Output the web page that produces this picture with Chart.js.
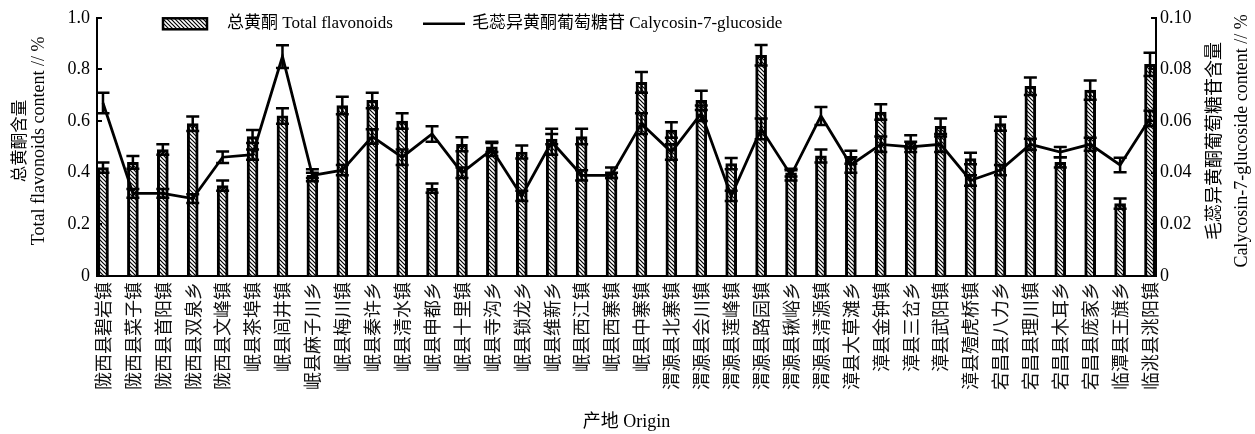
<!DOCTYPE html>
<html>
<head>
<meta charset="utf-8">
<script src="https://cdn.jsdelivr.net/npm/chart.js@4.4.1/dist/chart.umd.min.js"></script>
<style>
  html, body { margin: 0; padding: 0; background: #fff; }
  #wrap { width: 1255px; height: 434px; }
</style>
</head>
<body>
<div id="wrap"><canvas id="chart" width="1255" height="434"></canvas></div>
<script>
// Sampling sites (产地)
const origins = [
  '陇西县碧岩镇', '陇西县菜子镇', '陇西县首阳镇', '陇西县双泉乡', '陇西县文峰镇',
  '岷县茶埠镇', '岷县闾井镇', '岷县麻子川乡', '岷县梅川镇', '岷县秦许乡',
  '岷县清水镇', '岷县申都乡', '岷县十里镇', '岷县寺沟乡', '岷县锁龙乡',
  '岷县维新乡', '岷县西江镇', '岷县西寨镇', '岷县中寨镇', '渭源县北寨镇',
  '渭源县会川镇', '渭源县莲峰镇', '渭源县路园镇', '渭源县锹峪乡', '渭源县清源镇',
  '漳县大草滩乡', '漳县金钟镇', '漳县三岔乡', '漳县武阳镇', '漳县殪虎桥镇',
  '宕昌县八力乡', '宕昌县理川镇', '宕昌县木耳乡', '宕昌县庞家乡', '临潭县王旗乡',
  '临洮县洮阳镇'
];

// Total flavonoids content (%), mean and SD
const flavonoids = [
  0.42, 0.44, 0.49, 0.59, 0.35, 0.54, 0.62, 0.39, 0.66, 0.68,
  0.60, 0.34, 0.51, 0.50, 0.48, 0.53, 0.54, 0.40, 0.75, 0.565,
  0.68, 0.435, 0.855, 0.40, 0.465, 0.46, 0.635, 0.52, 0.58, 0.455,
  0.59, 0.735, 0.44, 0.72, 0.28, 0.82
];
const flavonoidsSD = [
  0.020, 0.025, 0.020, 0.028, 0.020, 0.025, 0.030, 0.023, 0.034, 0.030,
  0.030, 0.018, 0.027, 0.020, 0.025, 0.020, 0.030, 0.020, 0.040, 0.030,
  0.037, 0.022, 0.040, 0.015, 0.025, 0.025, 0.030, 0.025, 0.030, 0.022,
  0.027, 0.034, 0.020, 0.037, 0.020, 0.045
];

// Calycosin-7-glucoside content (%), mean and SD
const calycosin = [
  0.067, 0.032, 0.032, 0.030, 0.046, 0.047, 0.085, 0.039, 0.041, 0.054,
  0.046, 0.055, 0.040, 0.049, 0.031, 0.052, 0.039, 0.039, 0.059, 0.048,
  0.063, 0.031, 0.057, 0.039, 0.062, 0.043, 0.051, 0.050, 0.051, 0.037,
  0.041, 0.051, 0.048, 0.051, 0.043, 0.061
];
const calycosinSD = [
  0.0040, 0.0017, 0.0017, 0.0017, 0.0022, 0.0020, 0.0044, 0.0010, 0.0020, 0.0028,
  0.0030, 0.0030, 0.0020, 0.0025, 0.0020, 0.0050, 0.0020, 0.0010, 0.0040, 0.0030,
  0.0030, 0.0020, 0.0040, 0.0020, 0.0035, 0.0030, 0.0030, 0.0020, 0.0030, 0.0020,
  0.0020, 0.0022, 0.0020, 0.0025, 0.0028, 0.0030
];

// Axis ticks
const leftTicks = [0, 0.2, 0.4, 0.6, 0.8, 1.0];
const rightTicks = [0, 0.02, 0.04, 0.06, 0.08, 0.10];

// Axis titles and series names
const leftTitle = ['总黄酮含量', 'Total flavonoids content // %'];
const rightTitle = ['毛蕊异黄酮葡萄糖苷含量', 'Calycosin-7-glucoside content // %'];
const xTitle = '产地 Origin';
const barName = '总黄酮 Total flavonoids';
const lineName = '毛蕊异黄酮葡萄糖苷 Calycosin-7-glucoside';

const SERIF = '"Liberation Serif", "Noto Sans CJK SC", serif';
const CJK = '"Noto Sans CJK SC", sans-serif';

// Diagonal hatch fill for the bars
function makeHatch() {
  const tile = document.createElement('canvas');
  tile.width = 4; tile.height = 4;
  const g = tile.getContext('2d');
  g.fillStyle = '#fff';
  g.fillRect(0, 0, 4, 4);
  g.strokeStyle = '#000';
  g.lineWidth = 1.2;
  g.beginPath();
  g.moveTo(-1, -1); g.lineTo(5, 5);
  g.moveTo(3, -1); g.lineTo(5, 1);
  g.moveTo(-1, 3); g.lineTo(1, 5);
  g.stroke();
  return document.createElement('canvas').getContext('2d').createPattern(tile, 'repeat');
}
const hatch = makeHatch();

// Error bars (mean ± SD) with caps on both ends
const errorBars = {
  id: 'errorBars',
  afterDatasetsDraw(chart) {
    const { ctx } = chart;
    const xs = chart.scales.x;
    const cap = 6.5;
    ctx.save();
    ctx.strokeStyle = '#000';
    ctx.lineWidth = 2.5;
    const draw = (vals, sds, scale) => {
      vals.forEach((v, i) => {
        const px = xs.getPixelForValue(i);
        const hi = scale.getPixelForValue(v + sds[i]);
        const lo = scale.getPixelForValue(v - sds[i]);
        ctx.beginPath();
        ctx.moveTo(px, hi); ctx.lineTo(px, lo);
        ctx.moveTo(px - cap, hi); ctx.lineTo(px + cap, hi);
        ctx.moveTo(px - cap, lo); ctx.lineTo(px + cap, lo);
        ctx.stroke();
      });
    };
    draw(flavonoids, flavonoidsSD, chart.scales.y);
    draw(calycosin, calycosinSD, chart.scales.y1);
    ctx.restore();
  }
};

// Tick marks pointing into the plot on both value axes
const innerTicks = {
  id: 'innerTicks',
  afterDraw(chart) {
    const { ctx, chartArea: a } = chart;
    ctx.save();
    ctx.strokeStyle = '#000';
    ctx.lineWidth = 2;
    const yl = chart.scales.y, yr = chart.scales.y1;
    yl.ticks.forEach(t => {
      const p = Math.round(yl.getPixelForValue(t.value));
      ctx.beginPath(); ctx.moveTo(a.left, p); ctx.lineTo(a.left + 5, p); ctx.stroke();
    });
    yr.ticks.forEach(t => {
      const p = Math.round(yr.getPixelForValue(t.value));
      ctx.beginPath(); ctx.moveTo(a.right, p); ctx.lineTo(a.right - 5, p); ctx.stroke();
    });
    ctx.restore();
  }
};

// Vertical axis titles, both reading bottom-to-top, two lines each
const axisTitles = {
  id: 'axisTitles',
  afterDraw(chart) {
    const { ctx, chartArea: a } = chart;
    const cy = (a.top + a.bottom) / 2 - 6;
    const put = (text, x, size) => {
      ctx.save();
      ctx.translate(x, cy);
      ctx.rotate(-Math.PI / 2);
      ctx.font = size + 'px ' + SERIF;
      ctx.fillStyle = '#000';
      ctx.textAlign = 'center';
      ctx.textBaseline = 'middle';
      ctx.fillText(text, 0, 0);
      ctx.restore();
    };
    put(leftTitle[0], 21, 16.5);
    put(leftTitle[1], 39, 18);
    put(rightTitle[0], 1215, 18);
    put(rightTitle[1], 1242, 18);
  }
};

// Series key along the top of the plot
const seriesKey = {
  id: 'seriesKey',
  afterDraw(chart) {
    const { ctx, chartArea: a } = chart;
    const cy = a.top + 6;
    ctx.save();
    // hatched swatch
    ctx.fillStyle = hatch;
    ctx.fillRect(a.left + 66, cy - 5.5, 44, 11);
    ctx.strokeStyle = '#000';
    ctx.lineWidth = 2.5;
    ctx.strokeRect(a.left + 66, cy - 5.5, 44, 11);
    // line swatch
    ctx.beginPath();
    ctx.moveTo(a.left + 326, cy);
    ctx.lineTo(a.left + 368, cy);
    ctx.stroke();
    ctx.font = '17px ' + SERIF;
    ctx.fillStyle = '#000';
    ctx.textAlign = 'left';
    ctx.textBaseline = 'middle';
    ctx.fillText(chart.data.datasets[0].label, a.left + 130, cy);
    ctx.fillText(chart.data.datasets[1].label, a.left + 375, cy);
    ctx.restore();
  }
};

const idx = origins.map((_, i) => i);

new Chart(document.getElementById('chart'), {
  type: 'bar',
  data: {
    datasets: [
      {
        type: 'bar',
        label: barName,
        data: idx.map(i => ({ x: i, y: flavonoids[i] })),
        backgroundColor: hatch,
        borderColor: '#000',
        borderWidth: 3,
        barThickness: 11,
        yAxisID: 'y',
        order: 1
      },
      {
        type: 'line',
        label: lineName,
        data: idx.map(i => ({ x: i, y: calycosin[i] })),
        borderColor: '#000',
        borderWidth: 2.8,
        pointRadius: 0,
        tension: 0,
        fill: false,
        yAxisID: 'y1',
        order: 0
      }
    ]
  },
  options: {
    responsive: false,
    animation: false,
    devicePixelRatio: 1,
    layout: { padding: { top: 12, left: 0, right: 0, bottom: 0 } },
    plugins: {
      legend: { display: false },
      tooltip: { enabled: false }
    },
    scales: {
      x: {
        type: 'linear',
        offset: false,
        min: -0.2,
        max: origins.length - 0.8,
        afterBuildTicks(s) { s.ticks = idx.map(i => ({ value: i })); },
        afterFit(s) { s.height = 158; },
        grid: { display: true, drawOnChartArea: false, drawTicks: false, offset: false },
        border: { display: true, color: '#000', width: 2 },
        ticks: {
          autoSkip: false,
          minRotation: 90,
          maxRotation: 90,
          padding: 6,
          color: '#111',
          font: { family: CJK, size: 18 },
          callback: v => origins[v]
        },
        title: {
          display: true,
          text: xTitle,
          color: '#000',
          font: { family: SERIF, size: 18 },
          padding: { top: 0, bottom: 1 }
        }
      },
      y: {
        position: 'left',
        min: 0,
        max: 1.0,
        afterBuildTicks(s) { s.ticks = leftTicks.map(v => ({ value: v })); },
        afterFit(s) { s.width = 97; },
        grid: { drawOnChartArea: false, drawTicks: false },
        border: { display: true, color: '#000', width: 2 },
        ticks: {
          padding: 7,
          color: '#000',
          font: { family: SERIF, size: 18 },
          callback: v => (v === 0 ? '0' : v.toFixed(1))
        },
        title: { display: false }
      },
      y1: {
        position: 'right',
        min: 0,
        max: 0.10,
        afterBuildTicks(s) { s.ticks = rightTicks.map(v => ({ value: v })); },
        afterFit(s) { s.width = 99; },
        grid: { drawOnChartArea: false, drawTicks: false },
        border: { display: true, color: '#000', width: 2 },
        ticks: {
          padding: 4,
          color: '#000',
          font: { family: SERIF, size: 18 },
          callback: v => (v === 0 ? '0' : v.toFixed(2))
        },
        title: { display: false }
      }
    }
  },
  plugins: [errorBars, innerTicks, axisTitles, seriesKey]
});
</script>
</body>
</html>
